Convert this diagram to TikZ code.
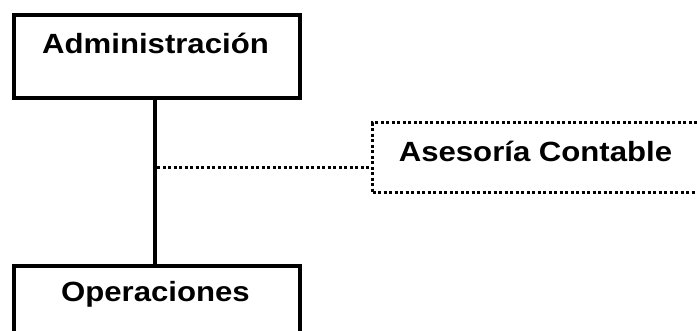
\documentclass[tikz,border=0pt]{standalone}
\usepackage{fontspec}
\newfontfamily\lab[FakeStretch=1.12]{Liberation Sans Bold}
\begin{document}
\begin{tikzpicture}[x=1pt,y=-1pt,
  solidbox/.style={draw=black,line width=3.8pt,rectangle,inner sep=0pt,anchor=north west},
  dotbox/.style={draw=black,line width=3.2pt,rectangle,inner sep=0pt,anchor=north west,dash pattern=on 3pt off 2.5pt},
  lbl/.style={font=\lab\fontsize{27.8}{30}\selectfont,anchor=base,inner sep=0pt},
  solidline/.style={draw=black,line width=3.8pt},
  dotline/.style={draw=black,line width=3.2pt,dash pattern=on 3pt off 2.5pt}]
\useasboundingbox (0,0) rectangle (697,331);
\clip (0,0) rectangle (697,331);
\node[solidbox,minimum width=286pt,minimum height=83pt] (adm) at (12,13) {};
\node[solidbox,minimum width=286pt,minimum height=90pt] (ope) at (12,264) {};
\node[dotbox,minimum width=350pt,minimum height=70pt] (ase) at (371,121) {};
\node[lbl] (admt) at (155.5,53.5) {Administración};
\node[lbl] (opet) at (155.5,302) {Operaciones};
\node[lbl] (aset) at (535.5,161.7) {Asesoría Contable};
\draw[solidline] (adm.south -| 155,0) -- (ope.north -| 155,0);
\coordinate (j) at (157,167.7);
\draw[dotline] (j) -- (j -| ase.west);
\end{tikzpicture}
\end{document}
